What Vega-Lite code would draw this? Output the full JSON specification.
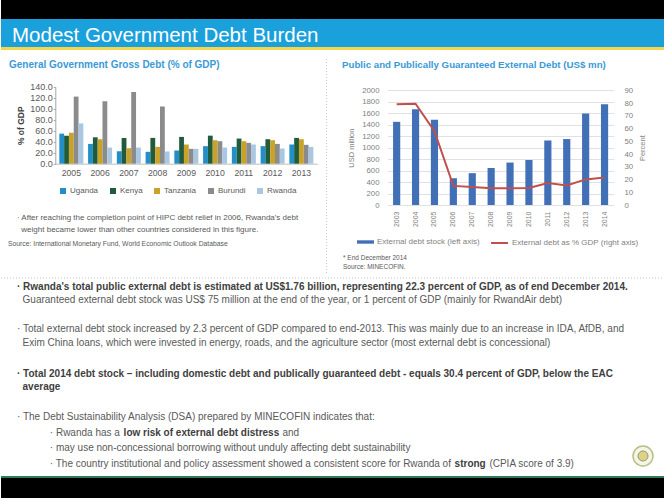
{
  "$schema": "https://vega.github.io/schema/vega-lite/v6.json",
  "padding": 0,
  "spacing": 0,
  "background": "#ffffff",
  "config": {
    "font": "Liberation Sans",
    "view": {"stroke": null},
    "title": {"anchor": "start", "frame": "group", "orient": "top", "limit": 1000},
    "legend": {"padding": 0}
  },
  "datasets": {
    "ggd": [
      {"year": "2005", "country": "Uganda", "debt": 54.7}, {"year": "2005", "country": "Kenya", "debt": 51.0}, {"year": "2005", "country": "Tanzania", "debt": 56.5}, {"year": "2005", "country": "Burundi", "debt": 122.0}, {"year": "2005", "country": "Rwanda", "debt": 73.3},
      {"year": "2006", "country": "Uganda", "debt": 36.0}, {"year": "2006", "country": "Kenya", "debt": 48.0}, {"year": "2006", "country": "Tanzania", "debt": 44.5}, {"year": "2006", "country": "Burundi", "debt": 113.6}, {"year": "2006", "country": "Rwanda", "debt": 29.4},
      {"year": "2007", "country": "Uganda", "debt": 22.8}, {"year": "2007", "country": "Kenya", "debt": 46.9}, {"year": "2007", "country": "Tanzania", "debt": 28.2}, {"year": "2007", "country": "Burundi", "debt": 130.4}, {"year": "2007", "country": "Rwanda", "debt": 29.4},
      {"year": "2008", "country": "Uganda", "debt": 21.6}, {"year": "2008", "country": "Kenya", "debt": 46.9}, {"year": "2008", "country": "Tanzania", "debt": 30.6}, {"year": "2008", "country": "Burundi", "debt": 104.0}, {"year": "2008", "country": "Rwanda", "debt": 22.2},
      {"year": "2009", "country": "Uganda", "debt": 24.0}, {"year": "2009", "country": "Kenya", "debt": 48.7}, {"year": "2009", "country": "Tanzania", "debt": 34.9}, {"year": "2009", "country": "Burundi", "debt": 27.0}, {"year": "2009", "country": "Rwanda", "debt": 27.0},
      {"year": "2010", "country": "Uganda", "debt": 31.9}, {"year": "2010", "country": "Kenya", "debt": 51.0}, {"year": "2010", "country": "Tanzania", "debt": 42.7}, {"year": "2010", "country": "Burundi", "debt": 40.9}, {"year": "2010", "country": "Rwanda", "debt": 29.4},
      {"year": "2011", "country": "Uganda", "debt": 30.6}, {"year": "2011", "country": "Kenya", "debt": 45.7}, {"year": "2011", "country": "Tanzania", "debt": 40.9}, {"year": "2011", "country": "Burundi", "debt": 37.9}, {"year": "2011", "country": "Rwanda", "debt": 34.9},
      {"year": "2012", "country": "Uganda", "debt": 31.9}, {"year": "2012", "country": "Kenya", "debt": 44.5}, {"year": "2012", "country": "Tanzania", "debt": 42.7}, {"year": "2012", "country": "Burundi", "debt": 36.0}, {"year": "2012", "country": "Rwanda", "debt": 27.6},
      {"year": "2013", "country": "Uganda", "debt": 34.9}, {"year": "2013", "country": "Kenya", "debt": 46.9}, {"year": "2013", "country": "Tanzania", "debt": 44.5}, {"year": "2013", "country": "Burundi", "debt": 34.3}, {"year": "2013", "country": "Rwanda", "debt": 30.6}
    ],
    "ext": [
      {"year": "2003", "stock": 1450, "pct": 79.0},
      {"year": "2004", "stock": 1670, "pct": 79.5},
      {"year": "2005", "stock": 1485, "pct": 58.0},
      {"year": "2006", "stock": 465, "pct": 15.0},
      {"year": "2007", "stock": 555, "pct": 14.1},
      {"year": "2008", "stock": 645, "pct": 13.1},
      {"year": "2009", "stock": 740, "pct": 13.1},
      {"year": "2010", "stock": 785, "pct": 13.3},
      {"year": "2011", "stock": 1125, "pct": 17.3},
      {"year": "2012", "stock": 1150, "pct": 15.4},
      {"year": "2013", "stock": 1595, "pct": 20.1},
      {"year": "2014", "stock": 1756, "pct": 21.5}
    ]
  },
  "vconcat": [
    {"width": 664, "height": 19, "view": {"fill": "#000000"}, "data": {"values": []}, "mark": "text"},
    {
      "width": 664, "height": 28, "view": {"fill": "#1aa1dc"}, "data": {"values": []}, "mark": "text",
      "title": {"text": "Modest Government Debt Burden", "fontSize": 20.5, "fontWeight": "normal", "color": "#ffffff", "dx": 11, "offset": -27.6}
    },
    {"width": 664, "height": 3, "view": {"fill": "#f6d44b"}, "data": {"values": []}, "mark": "text"},
    {"width": 664, "height": 8, "data": {"values": []}, "mark": "text"},
    {
      "spacing": 0,
      "hconcat": [
        {
          "spacing": 0,
          "vconcat": [
            {
              "width": 325, "height": 147,
              "title": {"text": "General Government Gross Debt (% of GDP)", "fontSize": 10, "fontWeight": "bold", "color": "#3a9ad6", "dx": 8, "offset": -11.2},
              "data": {"name": "ggd"},
              "mark": {"type": "bar"},
              "encoding": {
                "x": {
                  "field": "year", "type": "ordinal",
                  "scale": {"range": [54.3, 316.4], "paddingInner": 0.165, "paddingOuter": 0.14},
                  "axis": {"orient": "bottom", "offset": -42.3, "title": null, "labelAngle": 0, "labelFontSize": 8.7, "labelColor": "#595959", "ticks": false, "domainColor": "#bfbfbf", "labelPadding": 5}
                },
                "xOffset": {"field": "country", "type": "nominal", "scale": {"domain": ["Uganda", "Kenya", "Tanzania", "Burundi", "Rwanda"], "paddingInner": 0}},
                "y": {
                  "field": "debt", "type": "quantitative",
                  "scale": {"domain": [0, 140], "range": [104.7, 27.7], "nice": false},
                  "axis": {"orient": "left", "offset": -54.3, "values": [0, 20, 40, 60, 80, 100, 120, 140], "format": ".1f", "title": "% of GDP", "titleFontSize": 8.5, "titleFontWeight": "bold", "titleColor": "#404040", "titlePadding": 4, "labelFontSize": 9, "labelColor": "#595959", "labelPadding": 1, "tickSize": 2, "tickColor": "#a6a6a6", "domainColor": "#a6a6a6", "grid": false, "labelOverlap": false}
                },
                "color": {
                  "field": "country", "type": "nominal",
                  "scale": {"domain": ["Uganda", "Kenya", "Tanzania", "Burundi", "Rwanda"], "range": ["#238fc8", "#1f5b3c", "#c9a227", "#8b8b8b", "#a8c7e3"]},
                  "legend": {"orient": "none", "legendX": 58, "legendY": 187, "direction": "horizontal", "title": null, "symbolType": "square", "symbolSize": 36, "symbolStrokeWidth": 0, "labelFontSize": 8, "labelColor": "#595959", "labelOffset": 3, "columnPadding": 10}
                }
              }
            },
            {
              "width": 325, "height": 70, "data": {"values": []}, "mark": "text",
              "title": {
                "text": ["\u200b\u00a0\u00a0\u00a0\u00a0· After reaching the completion point of HIPC debt relief in 2006, Rwanda's debt", "\u200b\u00a0\u00a0\u00a0\u00a0\u00a0\u00a0weight became lower than other countries considered in this figure."],
                "fontSize": 8, "fontWeight": "normal", "color": "#595959", "lineHeight": 12, "dx": 7, "offset": -41.5,
                "subtitle": "Source: International Monetary Fund, World Economic Outlook Database",
                "subtitleFontSize": 6.8, "subtitleColor": "#595959", "subtitlePadding": 6.6
              }
            }
          ]
        },
        {
          "width": 1, "height": 216, "data": {"values": [{}]},
          "mark": {"type": "rule", "color": "#c8c8c8", "strokeDash": [1, 2], "strokeWidth": 1},
          "encoding": {"x": {"datum": 0.5, "type": "quantitative", "scale": {"domain": [0, 1]}, "axis": null}}
        },
        {
          "spacing": 0,
          "vconcat": [
            {
              "width": 338, "height": 192,
              "title": {"text": "Public and Publically Guaranteed External Debt (US$ mn)", "fontSize": 9.7, "fontWeight": "bold", "color": "#3a9ad6", "dx": 15, "offset": -10.9},
              "data": {"name": "ext"},
              "encoding": {
                "x": {
                  "field": "year", "type": "ordinal",
                  "scale": {"range": [60.4, 286.8], "paddingInner": 0.62, "paddingOuter": 0.3},
                  "axis": {"orient": "bottom", "offset": -46, "title": null, "labelAngle": -90, "labelFontSize": 7, "labelColor": "#7f7f7f", "domain": false, "ticks": false, "labelPadding": 6}
                }
              },
              "layer": [
                {
                  "mark": {"type": "bar"},
                  "encoding": {
                    "y": {
                      "field": "stock", "type": "quantitative",
                      "scale": {"domain": [0, 2000], "range": [146, 31.3], "nice": false},
                      "axis": {"orient": "left", "offset": -59, "values": [0, 200, 400, 600, 800, 1000, 1200, 1400, 1600, 1800, 2000], "format": "d", "title": "USD million", "titleFontSize": 7.5, "titleFontWeight": "normal", "titleColor": "#7f7f7f", "titlePadding": 6, "labelFontSize": 7.8, "labelColor": "#7f7f7f", "labelPadding": 7, "ticks": false, "domain": false, "grid": true, "gridColor": "#d9d9d9", "gridWidth": 0.8, "labelOverlap": false}
                    },
                    "fill": {
                      "datum": "External debt stock (left axis)", "type": "nominal",
                      "scale": {"range": ["#4270b6"]},
                      "legend": {"orient": "none", "legendX": 356, "legendY": 233.5, "title": null, "symbolType": "M-1,-0.2H1V0.2H-1Z", "symbolSize": 289, "symbolStrokeWidth": 0, "labelFontSize": 8, "labelColor": "#7f7f7f", "labelOffset": 3}
                    }
                  }
                },
                {
                  "mark": {"type": "line", "strokeWidth": 2},
                  "encoding": {
                    "y": {
                      "field": "pct", "type": "quantitative",
                      "scale": {"domain": [0, 90], "range": [146, 31.3], "nice": false},
                      "axis": {"orient": "right", "offset": -49, "values": [0, 10, 20, 30, 40, 50, 60, 70, 80, 90], "title": "Percent", "titleAngle": 270, "titleBaseline": "top", "titleFontSize": 7.5, "titleFontWeight": "normal", "titleColor": "#7f7f7f", "titlePadding": 6, "labelFontSize": 7.8, "labelColor": "#7f7f7f", "labelPadding": 8, "ticks": false, "domain": false, "grid": false, "labelOverlap": false}
                    },
                    "stroke": {
                      "datum": "External debt as % GDP (right axis)", "type": "nominal",
                      "scale": {"range": ["#c0504d"]},
                      "legend": {"orient": "none", "legendX": 489, "legendY": 233.5, "title": null, "symbolType": "stroke", "symbolSize": 289, "symbolStrokeWidth": 2, "labelFontSize": 8, "labelColor": "#7f7f7f", "labelOffset": 3}
                    }
                  }
                }
              ],
              "resolve": {"scale": {"y": "independent"}}
            },
            {
              "width": 338, "height": 25, "data": {"values": []}, "mark": "text",
              "title": {"text": ["* End December 2014", "Source: MINECOFIN."], "fontSize": 6.5, "fontWeight": "normal", "color": "#595959", "lineHeight": 9, "dx": 16, "offset": -19.4}
            }
          ]
        }
      ]
    },
    {
      "width": 664, "height": 4, "data": {"values": [{}]},
      "mark": {"type": "rule", "color": "#c8c8c8", "strokeDash": [1, 2], "strokeWidth": 1},
      "encoding": {"y": {"datum": 0.5, "type": "quantitative", "scale": {"domain": [0, 1]}, "axis": null}}
    },
    {
      "width": 664, "height": 34, "data": {"values": []}, "mark": "text",
      "title": {
        "text": "· Rwanda's total public external debt is estimated at US$1.76 billion, representing 22.3 percent of GDP, as of end December  2014.",
        "fontSize": 10, "fontWeight": "bold", "color": "#404040", "dx": 16, "offset": -25.2,
        "subtitle": "\u200b\u00a0\u00a0Guaranteed external debt stock was US$ 75 million at the end of the year, or 1 percent of GDP (mainly for RwandAir debt)",
        "subtitleFontSize": 10, "subtitleColor": "#595959", "subtitlePadding": 3
      }
    },
    {
      "width": 664, "height": 45, "data": {"values": []}, "mark": "text",
      "title": {
        "text": ["· Total external debt stock increased by 2.3 percent of GDP compared to end-2013. This was mainly due to an increase in IDA, AfDB, and", "\u200b\u00a0\u00a0Exim China loans, which were invested in energy, roads, and the agriculture sector (most external debt is concessional)"],
        "fontSize": 10, "fontWeight": "normal", "color": "#595959", "lineHeight": 14, "dx": 16, "offset": -34.2
      }
    },
    {
      "width": 664, "height": 43, "data": {"values": []}, "mark": "text",
      "title": {
        "text": ["· Total 2014 debt stock  – including domestic debt and publically guaranteed debt - equals 30.4 percent of GDP, below the EAC", "\u200b\u00a0\u00a0average"],
        "fontSize": 10, "fontWeight": "bold", "color": "#404040", "lineHeight": 13, "dx": 16, "offset": -33.2
      }
    },
    {
      "width": 664, "height": 22, "data": {"values": []}, "mark": "text",
      "title": {"text": "· The Debt Sustainability Analysis (DSA) prepared by MINECOFIN indicates that:", "fontSize": 10, "fontWeight": "normal", "color": "#595959", "dx": 16, "offset": -20.2}
    },
    {
      "spacing": 0,
      "vconcat": [
        {
          "spacing": 2.8,
          "hconcat": [
            {"width": 46, "height": 16, "data": {"values": []}, "mark": "text"},
            {"width": 1, "height": 16, "data": {"values": []}, "mark": "text", "title": {"text": "· Rwanda has a", "fontSize": 10, "fontWeight": "normal", "color": "#595959", "offset": -14.2}},
            {"width": 1, "height": 16, "data": {"values": []}, "mark": "text", "title": {"text": "low risk of external debt distress", "fontSize": 10, "fontWeight": "bold", "color": "#404040", "offset": -14.2}},
            {"width": 1, "height": 16, "data": {"values": []}, "mark": "text", "title": {"text": "and", "fontSize": 10, "fontWeight": "normal", "color": "#595959", "offset": -14.2}}
          ]
        },
        {
          "spacing": 55,
          "hconcat": [
            {
              "spacing": 0,
              "vconcat": [
                {
                  "spacing": 2.8,
                  "hconcat": [
                    {"width": 46, "height": 15, "data": {"values": []}, "mark": "text"},
                    {"width": 1, "height": 15, "data": {"values": []}, "mark": "text", "title": {"text": "· may use non-concessional borrowing without unduly affecting debt sustainability", "fontSize": 10, "fontWeight": "normal", "color": "#595959", "offset": -13.2}}
                  ]
                },
                {
                  "spacing": 2.8,
                  "hconcat": [
                    {"width": 46, "height": 21, "data": {"values": []}, "mark": "text"},
                    {"width": 1, "height": 21, "data": {"values": []}, "mark": "text", "title": {"text": "· The country institutional and policy assessment showed a consistent score for Rwanda of", "fontSize": 10, "fontWeight": "normal", "color": "#595959", "offset": -14.2}},
                    {"width": 1, "height": 21, "data": {"values": []}, "mark": "text", "title": {"text": "strong", "fontSize": 10, "fontWeight": "bold", "color": "#404040", "offset": -14.2}},
                    {"width": 1, "height": 21, "data": {"values": []}, "mark": "text", "title": {"text": "(CPIA score of 3.9)", "fontSize": 10, "fontWeight": "normal", "color": "#595959", "offset": -14.2}}
                  ]
                }
              ]
            },
            {
              "width": 22, "height": 32, "data": {"values": [{}]},
              "layer": [
                {"mark": {"type": "point", "shape": "circle", "size": 400, "filled": true, "fill": "#f4f0d8", "stroke": "#9ca35e", "strokeWidth": 1.5}, "encoding": {}},
                {"mark": {"type": "point", "shape": "circle", "size": 100, "filled": true, "fill": "#d8c35c", "stroke": "#4f7f55", "strokeWidth": 1}, "encoding": {}}
              ]
            }
          ]
        }
      ]
    },
    {"width": 664, "height": 2, "view": {"fill": "#2e7d59"}, "data": {"values": []}, "mark": "text"},
    {"width": 664, "height": 21, "view": {"fill": "#000000"}, "data": {"values": []}, "mark": "text"}
  ]
}
